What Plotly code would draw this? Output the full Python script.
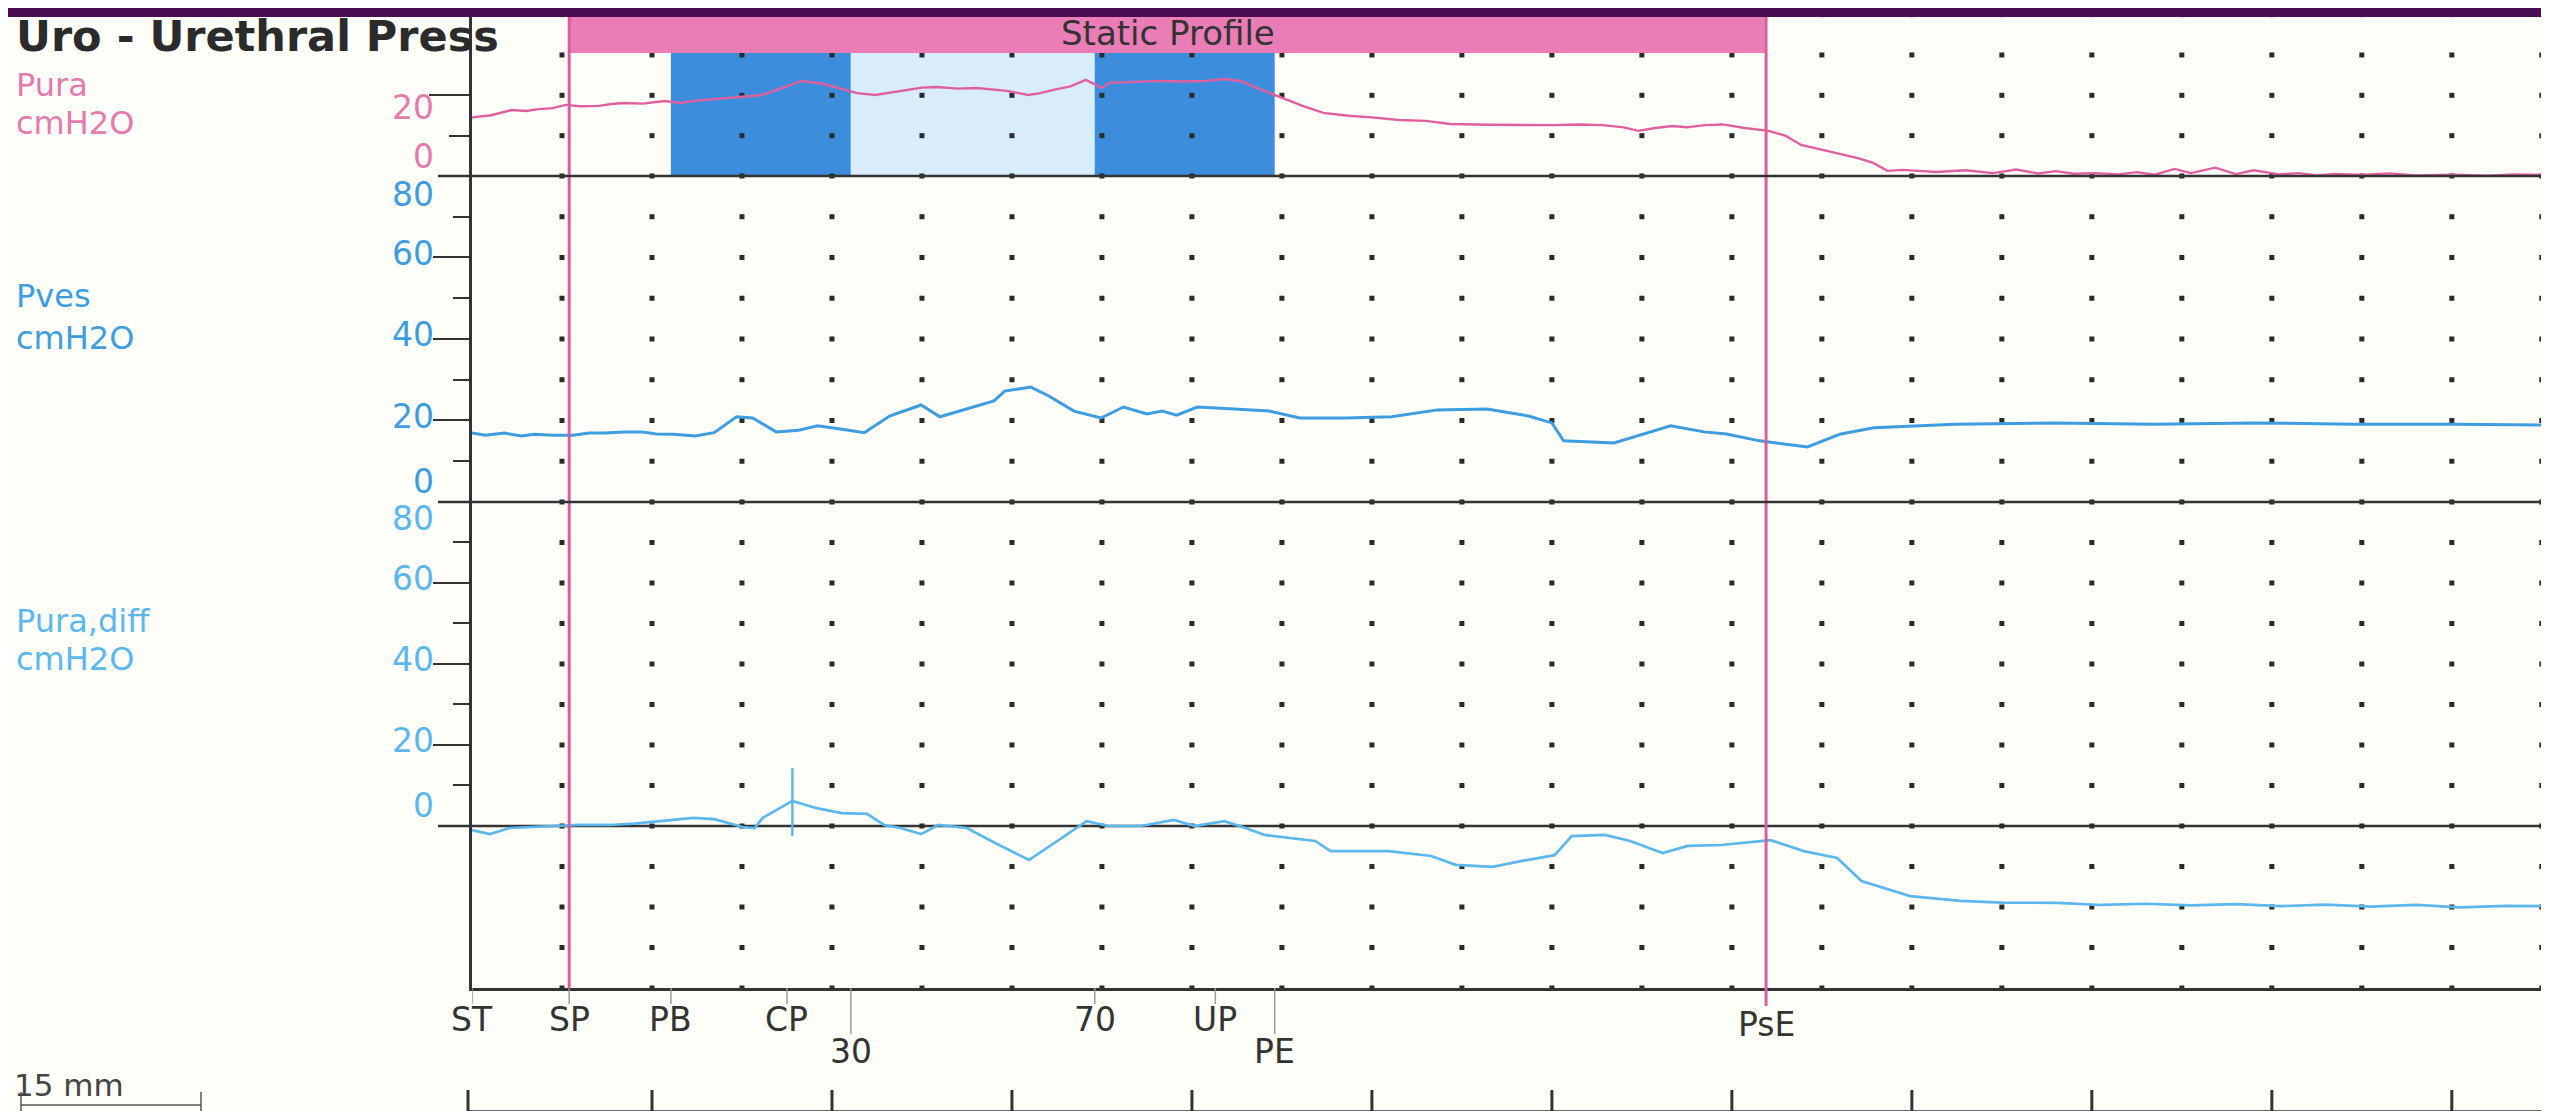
import plotly.graph_objects as go

# ---------------- data (x in grid divisions, y in cmH2O) ----------------
pura_x = [0.0, 0.02, 0.2, 0.44, 0.6, 0.74, 0.9, 1.04, 1.2, 1.41, 1.55, 1.69, 1.9, 2.14, 2.32, 2.5, 2.7,
          2.89, 3.05, 3.22, 3.45, 3.66, 3.9, 4.1, 4.28, 4.48, 4.65, 4.81, 5.0, 5.16, 5.4, 5.61, 5.8,
          5.94, 6.18, 6.3, 6.46, 6.65, 6.82, 7.0, 7.08, 7.3, 7.64, 7.9, 8.16, 8.36, 8.55, 8.72, 9.01,
          9.23, 9.46, 9.74, 10.0, 10.3, 10.6, 10.87, 11.3, 11.7, 12.02, 12.3, 12.56, 12.8, 12.96,
          13.15, 13.34, 13.5, 13.7, 13.9, 14.14, 14.41, 14.6, 14.77, 15.0, 15.21, 15.4, 15.57, 15.73,
          15.9, 16.27, 16.6, 16.9, 17.16, 17.4, 17.6, 17.8, 18.04, 18.3, 18.5, 18.7, 18.92, 19.1,
          19.37, 19.6, 19.8, 20.08, 20.3, 20.5, 20.7, 21.0, 21.3, 21.6, 22.02, 22.4, 22.7, 23.08]
pura_y = [18.1, 18.4, 18.9, 20.6, 20.3, 20.9, 21.2, 22.2, 21.8, 21.9, 22.5, 22.8, 22.6, 23.4, 22.8, 23.6,
          24.0, 24.4, 24.8, 25.3, 27.5, 29.7, 28.8, 27.2, 25.9, 25.3, 26.0, 26.6, 27.6, 27.8, 27.3,
          27.5, 27.0, 26.6, 25.3, 25.8, 26.9, 28.0, 30.0, 27.5, 29.1, 29.4, 29.7, 29.5, 29.7, 30.3,
          29.6, 27.5, 24.4, 21.9, 19.7, 18.8, 18.3, 17.5, 17.2, 16.25, 16.0, 15.9, 15.9, 16.1, 15.9,
          15.2, 14.1, 15.0, 15.6, 15.2, 15.9, 16.1, 15.0, 14.1, 12.5, 9.7, 8.2, 6.6, 5.6, 4.1, 1.6,
          1.9, 1.25, 1.8, 0.9, 2.0, 0.8, 1.5, 0.7, 0.9, 0.5, 1.2, 0.4, 2.2, 0.9, 2.6, 0.6, 1.8, 0.5,
          0.9, 0.2, 0.6, 0.3, 0.8, 0.2, 0.4, 0.1, 0.5, 0.3]

pves_x = [0.0, 0.15, 0.36, 0.55, 0.69, 0.9, 1.12, 1.3, 1.47, 1.7, 1.89, 2.05, 2.24, 2.48, 2.69, 2.94,
          3.12, 3.38, 3.63, 3.84, 4.13, 4.36, 4.64, 4.99, 5.2, 5.47, 5.8, 5.92, 6.21, 6.41, 6.69, 6.99,
          7.24, 7.5, 7.67, 7.83, 8.06, 8.47, 8.86, 9.2, 9.71, 10.22, 10.73, 11.28, 11.74, 12.0, 12.13,
          12.69, 13.11, 13.32, 13.69, 13.94, 14.31, 14.58, 14.84, 15.21, 15.58, 16.48, 17.58, 18.69,
          19.8, 20.91, 22.02, 23.08]
pves_y = [16.9, 16.4, 16.9, 16.2, 16.6, 16.4, 16.4, 16.9, 16.9, 17.2, 17.2, 16.7, 16.6, 16.2, 17.0, 20.9,
          20.6, 17.2, 17.6, 18.7, 17.8, 17.0, 21.1, 23.8, 20.9, 22.6, 24.8, 27.2, 28.2, 26.0, 22.3, 20.6,
          23.3, 21.6, 22.3, 21.3, 23.3, 22.8, 22.3, 20.6, 20.6, 20.9, 22.6, 22.8, 21.1, 19.4, 15.0,
          14.5, 17.4, 18.7, 17.2, 16.7, 15.0, 14.2, 13.5, 16.7, 18.2, 19.1, 19.4, 19.1,
          19.4, 19.1, 19.1, 18.9]

pdiff_x = [0.0, 0.04, 0.2, 0.42, 0.87, 1.2, 1.53, 1.8, 2.09, 2.46, 2.69, 2.91, 3.01, 3.14, 3.23, 3.56,
           3.83, 4.11, 4.39, 4.58, 4.76, 4.99, 5.18, 5.5, 5.77, 6.19, 6.51, 6.83, 7.07, 7.43, 7.8, 8.03,
           8.36, 8.53, 8.81, 9.37, 9.54, 10.19, 10.66, 10.93, 11.34, 11.67, 12.03, 12.22, 12.59, 12.87,
           13.23, 13.51, 13.88, 14.43, 14.8, 15.17, 15.44, 15.98, 16.54, 17.0, 17.62, 18.1, 18.6, 19.1,
           19.6, 20.1, 20.6, 21.1, 21.6, 22.1, 22.6, 23.08]
pdiff_y = [-1.0, -1.2, -2.0, -0.5, 0.0, 0.25, 0.25, 0.6, 1.2, 2.0, 1.7, 0.25, -0.25, -0.5, 2.0, 6.2,
           4.4, 3.2, 3.0, 0.25, -0.5, -2.0, 0.25, -0.5, -3.7, -8.4, -3.7, 1.2, 0.0, 0.0, 1.5, 0.0,
           1.2, 0.0, -2.2, -3.7, -6.2, -6.2, -7.4, -9.6, -10.1, -8.6, -7.2, -2.5, -2.2, -3.7,
           -6.7, -4.9, -4.7, -3.5, -6.2, -7.9, -13.6, -17.3, -18.5, -18.9, -19.0, -19.5, -19.2, -19.6,
           -19.3, -19.8, -19.4, -19.9, -19.5, -20.1, -19.7, -19.8]

spike_x = [3.56, 3.56]
spike_y = [-2.5, 14.3]

event_names = ["ST", "SP", "PB", "CP", "30", "70", "UP", "PE", "PsE"]
event_pos = [0.0, 1.08, 2.21, 3.5, 4.21, 6.92, 8.26, 8.92, 14.38]
event_low = [False, False, False, False, True, False, False, True, False]

pura_ticklabels = ["20", "0"]
pura_ticklabel_y = [21.5, 6.0]
pves_ticklabels = ["80", "60", "40", "20", "0"]
pves_ticklabel_y = [75.5, 61, 41, 21, 5.0]
pdiff_ticklabels = ["80", "60", "40", "20", "0"]
pdiff_ticklabel_y = [76, 61, 41, 21, 5.0]

channel_names = ["Pura", "Pves", "Pura,diff"]
channel_unit = "cmH2O"
title_text = "Uro - Urethral Press"
phase_text = "Static Profile"
scale_text = "15 mm"

grid_cols = list(range(1, 24))
rows_p3 = [-40, -30, -20, -10, 0, 10, 20, 30, 40, 50, 60, 70]
rows_p2 = [0, 10, 20, 30, 40, 50, 60, 70]
rows_p1 = [0, 12.6, 25.2, 37.8, 50.4]
ruler_ticks = [2, 4, 6, 8, 10, 12, 14, 16, 18, 20, 22]

# ---------------- styling ----------------
FONT = "DejaVu Sans"
BG = "#FEFEF8"
AXIS = "#333333"
PURPLE = "#4B0C52"
PINK_TRACE = "#E0609F"
PINK_LABEL = "#E47AAE"
PINK_BAR = "#EB7DB6"
PINK_LINE = "#DA5FA0"
BLUE_PVES = "#3D9DDF"
BLUE_DIFF = "#5BB7EC"
BAND_DARK = "#3C8EDC"
BAND_LIGHT = "#D8ECFA"

W, H = 2549, 1111
ML, MR, MT, MB = 464, 8, 6, 131
PW = W - ML - MR
PH = H - MT - MB
D3 = [0.0, 0.499]
D2 = [0.499, 0.8337]
D1 = [0.8337, 1.0]


def py(pix):
    """pixel row -> paper y"""
    return (H - MB - pix) / PH


def px(pix):
    """pixel column -> paper x"""
    return (pix - ML) / PW


fig = go.Figure()

# grid marks
for rows, yax in ((rows_p3, "y"), (rows_p2, "y2"), (rows_p1, "y3")):
    gx = [c for r in rows for c in grid_cols]
    gy = [r for r in rows for c in grid_cols]
    fig.add_trace(go.Scatter(x=gx, y=gy, xaxis="x", yaxis=yax, mode="markers",
                             marker=dict(symbol="square", size=5, color="#2a2a2a"),
                             cliponaxis=False, showlegend=False, hoverinfo="skip"))

fig.add_trace(go.Scatter(x=pura_x, y=pura_y, xaxis="x", yaxis="y3", mode="lines",
                         line=dict(color=PINK_TRACE, width=2.4), showlegend=False, name="Pura"))
fig.add_trace(go.Scatter(x=pves_x, y=pves_y, xaxis="x", yaxis="y2", mode="lines",
                         line=dict(color=BLUE_PVES, width=3), showlegend=False, name="Pves"))
fig.add_trace(go.Scatter(x=pdiff_x, y=pdiff_y, xaxis="x", yaxis="y", mode="lines",
                         line=dict(color=BLUE_DIFF, width=2.7), showlegend=False, name="Pura,diff"))
fig.add_trace(go.Scatter(x=spike_x, y=spike_y, xaxis="x", yaxis="y", mode="lines",
                         line=dict(color=BLUE_DIFF, width=2.4), showlegend=False, hoverinfo="skip"))

shapes = []
# purple header band
shapes.append(dict(type="rect", xref="paper", yref="paper", x0=px(0), x1=px(W), y0=py(9), y1=py(-2),
                   fillcolor=PURPLE, line=dict(width=0), layer="above"))
# blue zone bands in Pura panel
i_pb, i_30, i_70, i_pe = 2, 4, 5, 7
for a, b, col in ((i_pb, i_30, BAND_DARK), (i_30, i_70, BAND_LIGHT), (i_70, i_pe, BAND_DARK)):
    shapes.append(dict(type="rect", xref="x", yref="y3", x0=event_pos[a], x1=event_pos[b],
                       y0=0, y1=38.4, fillcolor=col, line=dict(width=0), layer="below"))
# pink Static Profile bar
shapes.append(dict(type="rect", xref="x", yref="paper", x0=event_pos[1], x1=event_pos[8],
                   y0=py(45), y1=py(9), fillcolor=PINK_BAR, line=dict(width=0), layer="above"))
# pink vertical markers
for i in (1, 8):
    shapes.append(dict(type="line", xref="x", yref="paper", x0=event_pos[i], x1=event_pos[i],
                       y0=py(998) if i == 8 else 0, y1=py(9), line=dict(color=PINK_LINE, width=3),
                       layer="above"))
# zero lines
shapes.append(dict(type="line", xref="paper", yref="y", x0=px(430), x1=1, y0=0, y1=0,
                   line=dict(color=AXIS, width=2.5), layer="below"))
for d in (D2[0], D1[0]):
    shapes.append(dict(type="line", xref="paper", yref="paper", x0=px(430), x1=1, y0=d, y1=d,
                       line=dict(color=AXIS, width=2.5), layer="above"))
# event ticks below the axis
for name, pos, low in zip(event_names, event_pos, event_low):
    if name in ("SP", "PsE"):
        continue
    shapes.append(dict(type="line", xref="x", yref="paper", x0=pos, x1=pos, y0=0,
                       y1=py(1026) if low else py(996), line=dict(color="#9a9a9a", width=1.5)))
shapes.append(dict(type="line", xref="x", yref="paper", x0=event_pos[1], x1=event_pos[1], y0=0,
                   y1=py(996), line=dict(color="#9a9a9a", width=1.5)))
# bottom ruler
shapes.append(dict(type="line", xref="paper", yref="paper", x0=px(459), x1=px(W + 5),
                   y0=py(1104), y1=py(1104), line=dict(color=AXIS, width=3.5)))
shapes.append(dict(type="line", xref="paper", yref="paper", x0=px(460), x1=px(460),
                   y0=py(1104), y1=py(1082), line=dict(color=AXIS, width=3)))
for t in ruler_ticks:
    shapes.append(dict(type="line", xref="x", yref="paper", x0=t, x1=t,
                       y0=py(1104), y1=py(1082), line=dict(color=AXIS, width=3)))
# 15 mm bracket
shapes.append(dict(type="line", xref="paper", yref="paper", x0=px(13), x1=px(193),
                   y0=py(1097), y1=py(1097), line=dict(color="#555555", width=1.5)))
for xx in (13, 193):
    shapes.append(dict(type="line", xref="paper", yref="paper", x0=px(xx), x1=px(xx),
                       y0=py(1084), y1=py(1108), line=dict(color="#555555", width=1.5)))

ann = []
ann.append(dict(text="<b>" + title_text + "</b>", xref="paper", yref="paper", x=px(6), y=py(28),
                xanchor="left", yanchor="middle", showarrow=False,
                font=dict(family=FONT, size=43, color="#2b2b2b")))
ann.append(dict(text=phase_text, xref="x", yref="paper", x=(event_pos[1] + event_pos[8]) / 2,
                y=py(25), xanchor="center", yanchor="middle", showarrow=False,
                font=dict(family=FONT, size=34, color="#333333")))
label_rows = [(77, 115, PINK_LABEL), (288, 330, BLUE_PVES), (613, 651, BLUE_DIFF)]
for name, (r1, r2, col) in zip(channel_names, label_rows):
    ann.append(dict(text=name, xref="paper", yref="paper", x=px(6), y=py(r1), xanchor="left",
                    yanchor="middle", showarrow=False, font=dict(family=FONT, size=32, color=col)))
    ann.append(dict(text=channel_unit, xref="paper", yref="paper", x=px(6), y=py(r2),
                    xanchor="left", yanchor="middle", showarrow=False,
                    font=dict(family=FONT, size=32, color=col)))
for labels, ys, yref, col in ((pura_ticklabels, pura_ticklabel_y, "y3", PINK_LABEL),
                              (pves_ticklabels, pves_ticklabel_y, "y2", BLUE_PVES),
                              (pdiff_ticklabels, pdiff_ticklabel_y, "y", BLUE_DIFF)):
    for t, yv in zip(labels, ys):
        ann.append(dict(text=t, xref="paper", yref=yref, x=px(428), y=yv, xanchor="right",
                        yanchor="middle", showarrow=False,
                        font=dict(family=FONT, size=33, color=col)))
for name, pos, low in zip(event_names, event_pos, event_low):
    if name == "PsE":
        yy = py(1016)
    elif low:
        yy = py(1043)
    else:
        yy = py(1011)
    ann.append(dict(text=name, xref="x", yref="paper", x=pos, y=yy, xanchor="center",
                    yanchor="middle", showarrow=False,
                    font=dict(family=FONT, size=33, color="#333333")))
ann.append(dict(text=scale_text, xref="paper", yref="paper", x=px(4), y=py(1077), xanchor="left",
                yanchor="middle", showarrow=False, font=dict(family=FONT, size=31, color="#444444")))

yax_common = dict(showline=True, mirror=True, linecolor=AXIS, linewidth=3, showgrid=False,
                  zeroline=False, showticklabels=False, ticks="outside", tickmode="array",
                  tickwidth=2, tickcolor=AXIS, anchor="x", fixedrange=True)

fig.update_layout(
    width=W, height=H,
    margin=dict(l=ML, r=MR, t=MT, b=MB, pad=0),
    paper_bgcolor=BG, plot_bgcolor=BG,
    showlegend=False,
    xaxis=dict(domain=[0, 1], range=[0, 23.08], anchor="y", showline=True, linecolor=AXIS,
               linewidth=3, showgrid=False, zeroline=False, showticklabels=False, ticks="",
               fixedrange=True),
    yaxis=dict(domain=D3, range=[-40, 80], tickvals=[20, 40, 60], ticklen=36,
               minor=dict(tickmode="array", tickvals=[10, 30, 50, 70], ticks="outside",
                          ticklen=16, tickwidth=2, tickcolor=AXIS), **yax_common),
    yaxis2=dict(domain=D2, range=[0, 80], tickvals=[20, 40, 60], ticklen=36,
                minor=dict(tickmode="array", tickvals=[10, 30, 50, 70], ticks="outside",
                           ticklen=16, tickwidth=2, tickcolor=AXIS), **yax_common),
    yaxis3=dict(domain=D1, range=[0, 50.6], tickvals=[25.2], ticklen=40,
                minor=dict(tickmode="array", tickvals=[12.6], ticks="outside",
                           ticklen=20, tickwidth=2, tickcolor=AXIS), **yax_common),
    shapes=shapes,
    annotations=ann,
)

fig.write_html("out.html")
